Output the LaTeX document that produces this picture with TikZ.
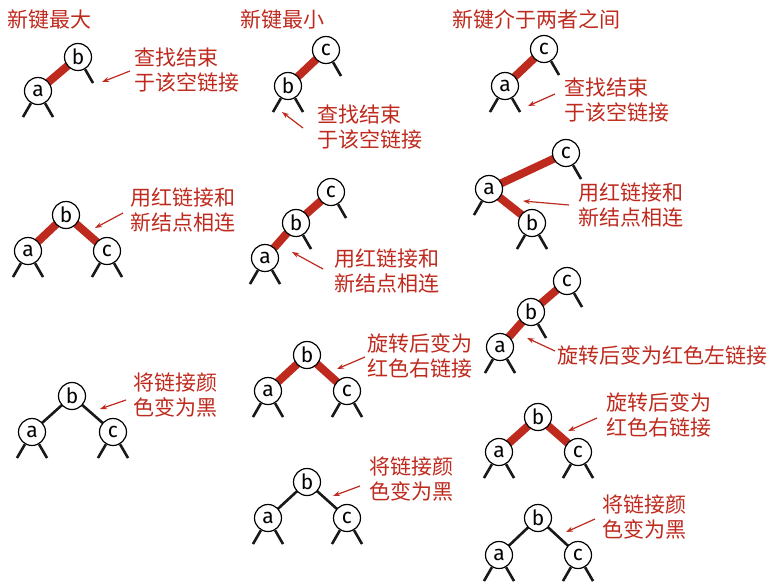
\documentclass[tikz,border=0pt]{standalone}
\usepackage{fontspec}
\newfontfamily\cjkfont{Noto Sans CJK SC}
\newfontfamily\lettfont{Fira Sans}
\usetikzlibrary{arrows.meta,backgrounds}
\definecolor{rbred}{RGB}{190,42,30}
\tikzset{
  tn/.style={circle,draw=black,fill=white,line width=1.2pt,minimum size=27pt,inner sep=0pt,font={\lettfont\fontsize{21}{21}\selectfont}},
  redlink/.style={draw=rbred,line width=8pt},
  blacklink/.style={draw=black!90,line width=2.6pt},
  stub/.style={draw=black!90,line width=2.6pt},
  lbl/.style={anchor=west,inner sep=0pt,text=rbred,align=left,font={\cjkfont\fontsize{21}{25}\selectfont}},
  ttl/.style={anchor=west,inner sep=0pt,text=rbred,font={\cjkfont\fontsize{21}{25}\selectfont}},
  note/.style={draw=rbred,line width=1.2pt,-{Stealth[length=7pt,width=5pt]}},
}
\newcommand{\stubL}[1]{\draw[stub] (#1.240) -- ++(240:16pt);}
\newcommand{\stubR}[1]{\draw[stub] (#1.300) -- ++(300:16pt);}
\begin{document}
\begin{tikzpicture}[x=1pt,y=-1pt]
\useasboundingbox (0,0) rectangle (772,582);
% ---------- titles
\node[ttl] (t1) at (7,20) {新键最大};
\node[ttl] (t2) at (240,20) {新键最小};
\node[ttl] (t3) at (452,19) {新键介于两者之间};
% ---------- column 1
\node[tn] (A1b) at (78,57) {b};
\node[tn] (A1a) at (38,91) {a};
\node[tn] (A2b) at (66,215) {b};
\node[tn] (A2a) at (28,251) {a};
\node[tn] (A2c) at (107,251) {c};
\node[tn] (A3b) at (72,396) {b};
\node[tn] (A3a) at (32,432) {a};
\node[tn] (A3c) at (113,432) {c};
% ---------- column 2
\node[tn] (B1c) at (326,50) {c};
\node[tn] (B1b) at (288,86) {b};
\node[tn] (B2c) at (331,192) {c};
\node[tn] (B2b) at (296,223) {b};
\node[tn] (B2a) at (265,258) {a};
\node[tn] (B3b) at (307,355) {b};
\node[tn] (B3a) at (268,391) {a};
\node[tn] (B3c) at (347,391) {c};
\node[tn] (B4b) at (307,482) {b};
\node[tn] (B4a) at (268,518) {a};
\node[tn] (B4c) at (347,518) {c};
% ---------- column 3
\node[tn] (C1c) at (544,49) {c};
\node[tn] (C1a) at (505,86) {a};
\node[tn] (C2c) at (566,153) {c};
\node[tn] (C2a) at (489,189) {a};
\node[tn] (C2b) at (532,223) {b};
\node[tn] (C3c) at (567,281) {c};
\node[tn] (C3b) at (531,312) {b};
\node[tn] (C3a) at (500,347) {a};
\node[tn] (C4b) at (538,417) {b};
\node[tn] (C4a) at (499,452) {a};
\node[tn] (C4c) at (578,452) {c};
\node[tn] (C5b) at (538,518) {b};
\node[tn] (C5a) at (499,555) {a};
\node[tn] (C5c) at (578,555) {c};
% ---------- links
\begin{pgfonlayer}{background}
\draw[redlink] (A1a.center) -- (A1b.center);
\draw[redlink] (A2a.center) -- (A2b.center) -- (A2c.center);
\draw[blacklink] (A3a.center) -- (A3b.center) -- (A3c.center);
\draw[redlink] (B1b.center) -- (B1c.center);
\draw[redlink] (B2a.center) -- (B2b.center) -- (B2c.center);
\draw[redlink] (B3a.center) -- (B3b.center) -- (B3c.center);
\draw[blacklink] (B4a.center) -- (B4b.center) -- (B4c.center);
\draw[redlink] (C1a.center) -- (C1c.center);
\draw[redlink] (C2c.center) -- (C2a.center) -- (C2b.center);
\draw[redlink] (C3a.center) -- (C3b.center) -- (C3c.center);
\draw[redlink] (C4a.center) -- (C4b.center) -- (C4c.center);
\draw[blacklink] (C5a.center) -- (C5b.center) -- (C5c.center);
\end{pgfonlayer}
% ---------- null-link stubs
\stubR{A1b} \stubL{A1a} \stubR{A1a}
\stubL{A2a} \stubR{A2a} \stubL{A2c} \stubR{A2c}
\stubL{A3a} \stubR{A3a} \stubL{A3c} \stubR{A3c}
\stubR{B1c} \stubL{B1b} \stubR{B1b}
\stubR{B2c} \stubR{B2b} \stubL{B2a} \stubR{B2a}
\stubL{B3a} \stubR{B3a} \stubL{B3c} \stubR{B3c}
\stubL{B4a} \stubR{B4a} \stubL{B4c} \stubR{B4c}
\stubR{C1c} \stubL{C1a} \stubR{C1a}
\stubR{C2c} \stubL{C2a} \stubL{C2b} \stubR{C2b}
\stubR{C3c} \stubR{C3b} \stubL{C3a} \stubR{C3a}
\stubL{C4a} \stubR{C4a} \stubL{C4c} \stubR{C4c}
\stubL{C5a} \stubR{C5a} \stubL{C5c} \stubR{C5c}
% ---------- labels
\node[lbl] (L1) at (134,70) {查找结束\\于该空链接};
\node[lbl] (L2) at (130,210.5) {用红链接和\\新结点相连};
\node[lbl] (L3) at (133,395.5) {将链接颜\\色变为黑};
\node[lbl] (L4) at (317,127.5) {查找结束\\于该空链接};
\node[lbl] (L5) at (334,271) {用红链接和\\新结点相连};
\node[lbl] (L6) at (367,355.5) {旋转后变为\\红色右链接};
\node[lbl] (L7) at (369,479.5) {将链接颜\\色变为黑};
\node[lbl] (L8) at (564,100) {查找结束\\于该空链接};
\node[lbl] (L9) at (578,205.5) {用红链接和\\新结点相连};
\node[lbl] (L10) at (557,355) {旋转后变为红色左链接};
\node[lbl] (L11) at (606,414.5) {旋转后变为\\红色右链接};
\node[lbl] (L12) at (602,517.5) {将链接颜\\色变为黑};
% ---------- pointer arrows
\coordinate (P1s) at (130,71);  \coordinate (P1e) at (102,82);
\coordinate (P2s) at (123,213); \coordinate (P2e) at (95,228);
\coordinate (P3s) at (126,400); \coordinate (P3e) at (100,409);
\coordinate (P4s) at (303,128); \coordinate (P4e) at (282,112);
\coordinate (P5s) at (323,269); \coordinate (P5e) at (292,252);
\coordinate (P6s) at (365,357); \coordinate (P6e) at (337,369);
\coordinate (P7s) at (360,486); \coordinate (P7e) at (333,496);
\coordinate (P8s) at (555,94);  \coordinate (P8e) at (528,106);
\coordinate (P9s) at (569,205); \coordinate (P9e) at (523,201);
\coordinate (P10s) at (555,351); \coordinate (P10e) at (527,338);
\coordinate (P11s) at (597,418); \coordinate (P11e) at (568,431);
\coordinate (P12s) at (595,519); \coordinate (P12e) at (566,532);
\foreach \i in {1,...,12} {\draw[note] (P\i s) -- (P\i e);}
\end{tikzpicture}
\end{document}
